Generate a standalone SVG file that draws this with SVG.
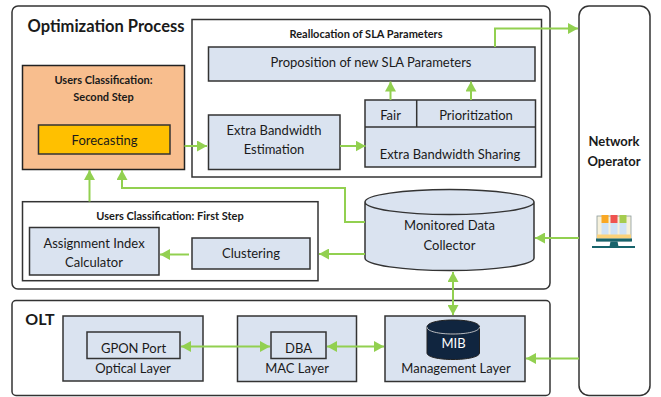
<svg xmlns="http://www.w3.org/2000/svg" width="661" height="397" viewBox="0 0 661 397">
<style>
text{font-family:"Lato","Open Sans","Liberation Sans",sans-serif;fill:#1a1a1a;text-anchor:middle}
.c{font-size:13px}
.b{font-size:11px;font-weight:700}
.h{font-size:16px;font-weight:700}
.n{font-size:13px;font-weight:700}
.o{fill:#fff;stroke:#333;stroke-width:1.5}
.w{fill:#fff;stroke:#333;stroke-width:1.5}
.f{fill:#dae3f0;stroke:#333;stroke-width:1.5}
.l{fill:none;stroke:#92d050;stroke-width:2}
</style>
<defs>
<marker id="a" markerUnits="userSpaceOnUse" markerWidth="11" markerHeight="11" refX="10" refY="5.5" orient="auto-start-reverse"><path d="M0 0L10 5.5L0 11z" fill="#92d050"/></marker>
</defs>
<g id="optimization"><rect class="o" x="12" y="6" width="538" height="283" rx="6"/><text class="h" x="106" y="32" style="font-size:16.5px">Optimization Process</text></g>
<g id="olt"><rect class="o" x="12" y="300.5" width="538" height="95" rx="4"/><text class="h" x="40" y="325">OLT</text></g>
<g id="network-operator"><rect class="o" x="579" y="6" width="71" height="389.500" rx="10"/><text class="n" x="614" y="146">Network</text><text class="n" x="614" y="166">Operator</text></g>
<g id="reallocation"><rect class="w" x="192" y="19.500" width="349.500" height="157.500"/><text class="b" x="366" y="38">Reallocation of SLA Parameters</text></g>
<g id="proposition"><rect class="f" x="208.500" y="47" width="326.500" height="34"/><text class="c" x="371" y="67">Proposition of new SLA Parameters</text></g>
<g id="second-step"><rect x="22.500" y="65.500" width="162" height="104" fill="#f8be8e" stroke="#222" stroke-width="1.500"/><text class="b" x="103.500" y="84">Users Classification:</text><text class="b" x="103.500" y="101">Second Step</text></g>
<g id="forecasting"><rect x="38.500" y="125" width="131.500" height="29" fill="#ffc000" stroke="#333" stroke-width="1.500"/><text class="c" x="104.500" y="145">Forecasting</text></g>
<g id="estimation"><rect class="f" x="208.500" y="115" width="131.500" height="54.500"/><text class="c" x="274" y="135">Extra Bandwidth</text><text class="c" x="274" y="154">Estimation</text></g>
<g id="sharing"><rect class="f" x="365" y="100" width="170.500" height="67"/><path d="M365 127H535.500M416.700 100V127" fill="none" stroke="#333" stroke-width="1.500"/><text class="c" x="390.500" y="120">Fair</text><text class="c" x="476" y="120">Prioritization</text><text class="c" x="450" y="159">Extra Bandwidth Sharing</text></g>
<g id="first-step"><rect class="w" x="22.500" y="201.700" width="295.500" height="79"/><text class="b" x="170" y="220">Users Classification: First Step</text></g>
<g id="assignment"><rect class="f" x="29.500" y="227.500" width="129.500" height="47.500"/><text class="c" x="94" y="248">Assignment Index</text><text class="c" x="94" y="267">Calculator</text></g>
<g id="clustering"><rect class="f" x="192" y="238" width="118" height="31"/><text class="c" x="251" y="258">Clustering</text></g>
<g id="collector"><path class="f" d="M365 202V258C365 265 403 270.500 449.500 270.500S534 265 534 258V202C534 195 496 189.500 449.500 189.500S365 195 365 202C365 209 403 214.500 449.500 214.500S534 209 534 202"/><text class="c" x="449.500" y="230">Monitored Data</text><text class="c" x="449.500" y="250">Collector</text></g>
<g id="optical"><rect class="f" x="63" y="316" width="140" height="65"/><rect class="f" x="87" y="332" width="93" height="26.500"/><text class="c" x="133.500" y="353">GPON Port</text><text class="c" x="133" y="373">Optical Layer</text></g>
<g id="mac"><rect class="f" x="237.500" y="316" width="119" height="65.500"/><rect class="f" x="271" y="332" width="55" height="26.500"/><text class="c" x="298.500" y="353">DBA</text><text class="c" x="297" y="373">MAC Layer</text></g>
<g id="management"><rect class="f" x="385" y="316" width="140" height="65.500"/><path d="M427 327V353C427 357 439 359.500 453 359.500S479.500 357 479.500 353V327C479.500 322.500 467 320 453 320S427 322.500 427 327C427 331.500 439 334 453 334S479.500 331.500 479.500 327" fill="#10253f" stroke="#222" stroke-width="1"/><path d="M427 327C427 331.500 439 334 453 334S479.500 331.500 479.500 327" fill="none" stroke="#dae3f0" stroke-width=".8"/><text class="c" x="453.500" y="348" style="fill:#fff">MIB</text><text class="c" x="456" y="373">Management Layer</text></g>
<g id="icon">
<rect x="597" y="216" width="34" height="25" fill="#f6f1dc" stroke="#8a9a9a" stroke-width=".8"/>
<rect x="601.500" y="215" width="7" height="8" fill="#f9a825"/><rect x="610.500" y="215" width="7" height="8" fill="#ef5350"/><rect x="619.500" y="215" width="7" height="8" fill="#a5cc4e"/>
<rect x="601.500" y="223" width="7" height="13" fill="#cfe2f5"/><rect x="610.500" y="223" width="7" height="13" fill="#cfe2f5"/><rect x="619.500" y="223" width="7" height="13" fill="#cfe2f5"/>
<rect x="597" y="234.500" width="34" height="4" fill="#fbd27a"/>
<rect x="596" y="238.500" width="36" height="3" fill="#17636b"/>
<path d="M610.500 241.500h7l1 5h-9z" fill="#17636b"/>
<rect x="592" y="246" width="43" height="2" fill="#17636b"/>
</g>
<g id="connectors">
<path class="l" d="M184.500 146H207" marker-end="url(#a)"/>
<path class="l" d="M340 146H365.500" marker-end="url(#a)"/>
<path class="l" d="M390.500 100V81.500" marker-end="url(#a)"/>
<path class="l" d="M471 100V81.500" marker-end="url(#a)"/>
<path class="l" d="M495 47V28.500H578" marker-end="url(#a)"/>
<path class="l" d="M365 222H345V188H122V170" marker-end="url(#a)"/>
<path class="l" d="M89.500 201.500V170" marker-end="url(#a)"/>
<path class="l" d="M365 254H319" marker-end="url(#a)"/>
<path class="l" d="M189 254.500H160" marker-end="url(#a)"/>
<path class="l" d="M579 238H535" marker-end="url(#a)"/>
<path class="l" d="M453 272V315" marker-start="url(#a)" marker-end="url(#a)"/>
<path class="l" d="M181 346.500H270" marker-start="url(#a)" marker-end="url(#a)"/>
<path class="l" d="M327 346.500H384" marker-start="url(#a)" marker-end="url(#a)"/>
<path class="l" d="M579 358.500H526" marker-end="url(#a)"/>
</g>
</svg>
